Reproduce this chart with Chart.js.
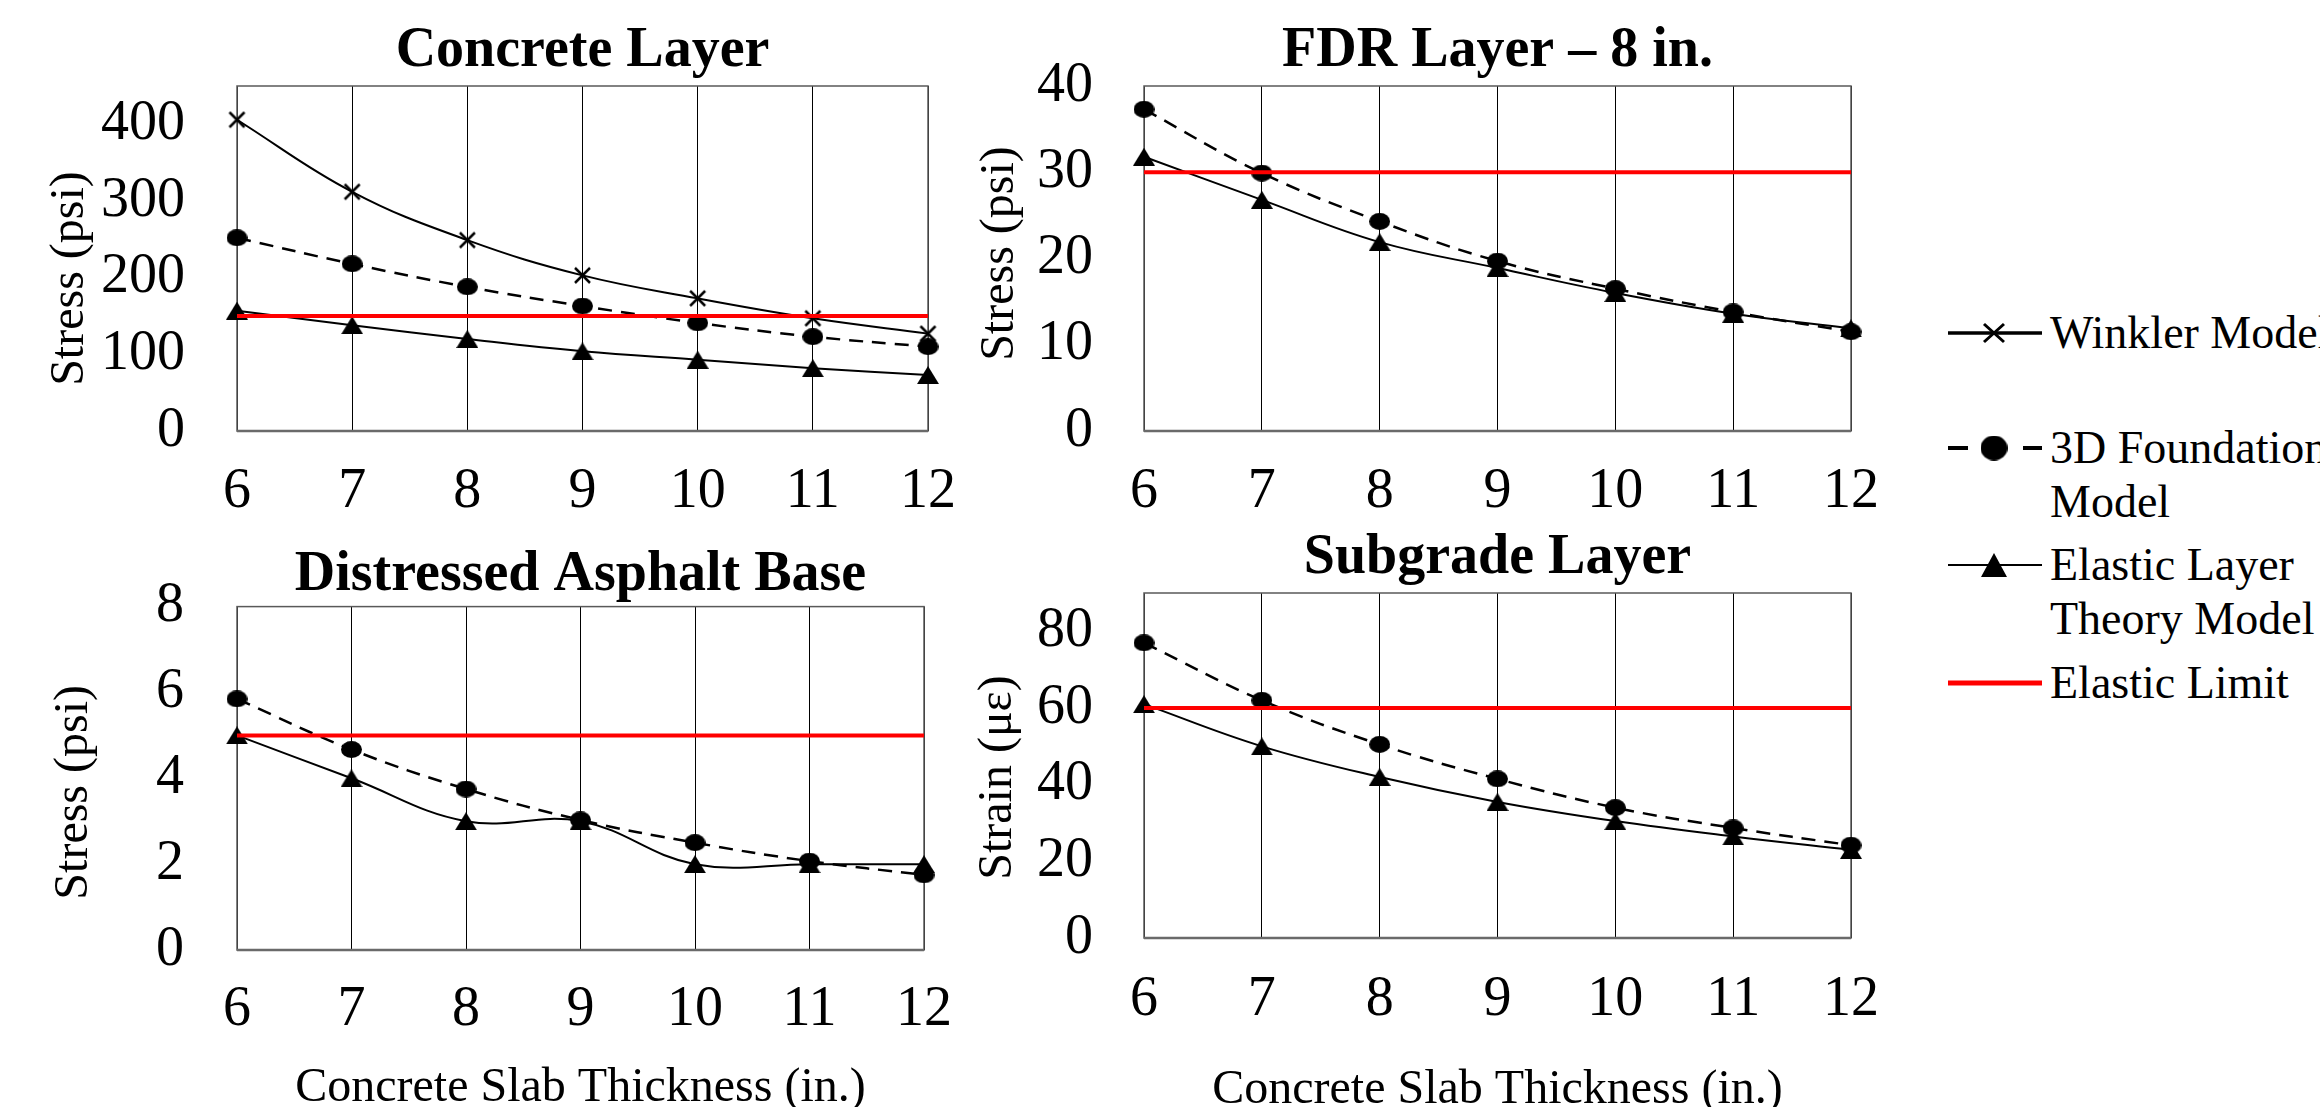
<!DOCTYPE html>
<html>
<head>
<meta charset="utf-8">
<script src="https://cdn.jsdelivr.net/npm/chart.js@4.4.1/dist/chart.umd.min.js"></script>
<style>
  html, body { margin: 0; padding: 0; background: #fff; width: 2320px; height: 1107px; overflow: hidden; }
  .panel { position: absolute; }
  .item { position: absolute; left: 1948px; white-space: nowrap;
          font-family: "Liberation Serif", "Times New Roman", serif; font-size: 46px; color: #000; }
  .item canvas { position: absolute; left: 0; }
  .item .txt { position: absolute; left: 102px; line-height: 54px; }
</style>
</head>
<body>
<div class="panel" style="left:0;top:0;width:1000px;height:540px"><canvas id="concreteChart"></canvas></div>
<div class="panel" style="left:960px;top:0;width:960px;height:540px"><canvas id="fdrChart"></canvas></div>
<div class="panel" style="left:0;top:520px;width:1000px;height:620px"><canvas id="asphaltChart"></canvas></div>
<div class="panel" style="left:960px;top:500px;width:960px;height:640px"><canvas id="subgradeChart"></canvas></div>
<div id="legend"></div>
<script>
// data
const thickness = ['6', '7', '8', '9', '10', '11', '12'];

const concreteWinkler = [406, 312, 249, 203, 173, 147, 127];
const concrete3D = [252, 218, 188, 163, 141, 123, 110];
const concreteElastic = [157, 138, 120, 104, 93, 82, 73];
const concreteLimit = 150;
const concreteTicks = [0, 100, 200, 300, 400];

const fdr3D = [37.3, 29.9, 24.3, 19.7, 16.5, 13.8, 11.5];
const fdrElastic = [31.8, 26.8, 21.9, 18.9, 16.0, 13.6, 11.9];
const fdrLimit = 30;
const fdrTicks = [0, 10, 20, 30, 40];

const asphalt3D = [5.85, 4.67, 3.75, 3.03, 2.5, 2.07, 1.75];
const asphaltElastic = [5, 4, 3, 3, 2, 2, 2];
const asphaltLimit = 5;
const asphaltTicks = [0, 2, 4, 6, 8];

const subgrade3D = [77, 62, 50.5, 41.5, 34, 28.7, 24.2];
const subgradeElastic = [61, 50, 42, 35.5, 30.5, 26.5, 23];
const subgradeLimit = 60;
const subgradeTicks = [0, 20, 40, 60, 80];

const seriesNames = ['Winkler Model', '3D Foundation Model', 'Elastic Layer Theory Model', 'Elastic Limit'];
const legendLines = [['Winkler Model'], ['3D Foundation', 'Model'], ['Elastic Layer', 'Theory Model'], ['Elastic Limit']];

const FONT = '"Liberation Serif", "Times New Roman", serif';
Chart.defaults.font.family = FONT;
Chart.defaults.color = '#000';

// marker images (the figure's markers are a bit wider than tall)
function marker(kind, w, h, lw) {
    const c = document.createElement('canvas');
    c.width = w; c.height = h;
    const g = c.getContext('2d');
    g.fillStyle = '#000';
    g.strokeStyle = '#000';
    g.lineWidth = lw || 2;
    g.beginPath();
    if (kind === 'x') {
        g.moveTo(2, 2); g.lineTo(w - 2, h - 2);
        g.moveTo(w - 2, 2); g.lineTo(2, h - 2);
        g.stroke();
    } else if (kind === 'dot') {
        g.ellipse(w / 2, h / 2, w / 2, h / 2, 0, 0, Math.PI * 2);
        g.fill();
    } else {
        g.moveTo(w / 2, 0); g.lineTo(w, h); g.lineTo(0, h);
        g.closePath();
        g.fill();
    }
    return c;
}

const xMark = marker('x', 19, 19, 2.5);
const dotMark = marker('dot', 21, 17);
const triMark = marker('tri', 22, 18);

const styles = {
    winkler: { borderColor: '#000', borderWidth: 2, pointStyle: xMark, order: 3 },
    found3d: { borderColor: '#000', borderWidth: 2.5, borderDash: [14, 9], pointStyle: dotMark, order: 2 },
    elastic: { borderColor: '#000', borderWidth: 2, pointStyle: triMark, order: 1 },
    limit: { borderColor: '#ff0000', borderWidth: 4, pointRadius: 0, order: 0 }
};

function dataset(name, data, kind) {
    return Object.assign({
        label: name,
        data: data,
        fill: false,
        clip: false,
        tension: kind === 'limit' ? 0 : 0.4,
        pointRadius: 10
    }, styles[kind]);
}

// draws the plot frame
const framePlugin = {
    id: 'frame',
    beforeDatasetsDraw(chart) {
        const a = chart.chartArea;
        const ctx = chart.ctx;
        ctx.save();
        ctx.strokeStyle = '#595959';
        ctx.lineWidth = 1.5;
        ctx.strokeRect(a.left, a.top, a.right - a.left, a.bottom - a.top);
        ctx.strokeStyle = '#6a6a6a';
        ctx.lineWidth = 2.5;
        ctx.beginPath();
        ctx.moveTo(a.left, a.bottom);
        ctx.lineTo(a.right, a.bottom);
        ctx.stroke();
        ctx.restore();
    }
};

// the y titles are not quite centred on the plot in the original
const yTitleShift = {
    id: 'yTitleShift',
    beforeDraw(chart, args, opts) {
        const s = chart.scales.y;
        if (!s || s._shifted) return;
        const orig = s.drawTitle;
        s.drawTitle = function () {
            this.ctx.save();
            this.ctx.translate(0, opts.shift || 0);
            orig.call(this);
            this.ctx.restore();
        };
        s._shifted = true;
    }
};

function buildPanel(id, box, title, yTitle, yMax, yTicks, datasets, xTitle) {
    const titleTop = box.titleMid - box.cy - 33.6;
    const xScale = {
        grid: { color: '#000', lineWidth: 1, drawTicks: false },
        border: { display: false },
        ticks: { font: { size: 56 }, padding: box.xTickMid - box.B - 33.6, maxRotation: 0, autoSkip: false },
        afterFit: s => { s.height = box.cy + box.ch - box.B; }
    };
    if (xTitle) {
        xScale.title = {
            display: true, text: xTitle, font: { size: 48 },
            padding: { top: 0, bottom: box.cy + box.ch - box.xTitleMid - 28.8 }
        };
    }
    return new Chart(document.getElementById(id), {
        type: 'line',
        data: { labels: thickness, datasets: datasets },
        options: {
            responsive: true,
            maintainAspectRatio: false,
            animation: false,
            events: [],
            layout: { padding: { left: 0, top: 0, right: box.cx + box.cw - box.R, bottom: 0 } },
            plugins: {
                legend: { display: false },
                tooltip: { enabled: false },
                yTitleShift: { shift: box.yTitleShift },
                title: {
                    display: true, text: title, fullSize: false, color: '#000',
                    font: { size: 56, weight: 'bold' },
                    padding: { top: titleTop, bottom: box.T - box.cy - titleTop - 67.2 }
                }
            },
            scales: {
                x: xScale,
                y: {
                    min: 0,
                    max: yMax,
                    grid: { display: false, drawTicks: false },
                    border: { display: false },
                    ticks: { font: { size: 56 }, padding: box.yPad },
                    afterBuildTicks: s => { s.ticks = yTicks.map(v => ({ value: v })); },
                    afterFit: s => { s.width = box.L - box.cx; },
                    title: {
                        display: true, text: yTitle, font: { size: 48 },
                        padding: { top: box.yTitleX - box.cx - 28.8, bottom: 0 }
                    }
                }
            }
        },
        plugins: [framePlugin, yTitleShift]
    });
}

const concreteChart = buildPanel('concreteChart',
    { cx: 0, cy: 0, cw: 1000, ch: 540, L: 237, T: 86, R: 928, B: 431, titleMid: 52, yTitleX: 70, yTitleShift: 20, yPad: 52, xTickMid: 492 },
    'Concrete Layer', 'Stress (psi)', 450, concreteTicks, [
        dataset(seriesNames[0], concreteWinkler, 'winkler'),
        dataset(seriesNames[1], concrete3D, 'found3d'),
        dataset(seriesNames[2], concreteElastic, 'elastic'),
        dataset(seriesNames[3], thickness.map(() => concreteLimit), 'limit')
    ]);

const fdrChart = buildPanel('fdrChart',
    { cx: 960, cy: 0, cw: 960, ch: 540, L: 1144, T: 86, R: 1851, B: 431, titleMid: 52, yTitleX: 1000, yTitleShift: -5, yPad: 51, xTickMid: 492 },
    'FDR Layer \u2013 8 in.', 'Stress (psi)', 40, fdrTicks, [
        dataset(seriesNames[1], fdr3D, 'found3d'),
        dataset(seriesNames[2], fdrElastic, 'elastic'),
        dataset(seriesNames[3], thickness.map(() => fdrLimit), 'limit')
    ]);

const asphaltChart = buildPanel('asphaltChart',
    { cx: 0, cy: 520, cw: 1000, ch: 620, L: 237, T: 605, R: 924, B: 950, titleMid: 574, yTitleX: 74, yTitleShift: 14, yPad: 53, xTickMid: 1010, xTitleMid: 1088 },
    'Distressed Asphalt Base', 'Stress (psi)', 8, asphaltTicks, [
        dataset(seriesNames[1], asphalt3D, 'found3d'),
        dataset(seriesNames[2], asphaltElastic, 'elastic'),
        dataset(seriesNames[3], thickness.map(() => asphaltLimit), 'limit')
    ], 'Concrete Slab Thickness (in.)');

const subgradeChart = buildPanel('subgradeChart',
    { cx: 960, cy: 500, cw: 960, ch: 640, L: 1144, T: 593, R: 1851, B: 938, titleMid: 559, yTitleX: 998, yTitleShift: 12, yPad: 51, xTickMid: 1000, xTitleMid: 1090 },
    'Subgrade Layer', 'Strain (\u03bc\u03b5)', 90, subgradeTicks, [
        dataset(seriesNames[1], subgrade3D, 'found3d'),
        dataset(seriesNames[2], subgradeElastic, 'elastic'),
        dataset(seriesNames[3], thickness.map(() => subgradeLimit), 'limit')
    ], 'Concrete Slab Thickness (in.)');

// shared legend on the right
const legendMids = [333, 448, 565, 683];
const legendKinds = ['winkler', 'found3d', 'elastic', 'limit'];
const legendEl = document.getElementById('legend');
legendKinds.forEach((kind, i) => {
    const item = document.createElement('div');
    item.className = 'item';
    item.style.top = (legendMids[i] - 27) + 'px';
    const c = document.createElement('canvas');
    c.width = 94; c.height = 40;
    c.style.top = '7px';
    const g = c.getContext('2d');
    g.lineCap = 'butt';
    g.beginPath();
    if (kind === 'found3d') {
        g.strokeStyle = '#000'; g.lineWidth = 4;
        g.moveTo(0, 20); g.lineTo(20, 20);
        g.moveTo(75, 20); g.lineTo(94, 20);
        g.stroke();
        g.drawImage(marker('dot', 27, 25), 46 - 13.5, 20 - 12.5);
    } else if (kind === 'limit') {
        g.strokeStyle = '#ff0000'; g.lineWidth = 5;
        g.moveTo(0, 20); g.lineTo(94, 20);
        g.stroke();
    } else {
        g.strokeStyle = '#000'; g.lineWidth = kind === 'winkler' ? 3.5 : 2;
        g.moveTo(0, 20); g.lineTo(94, 20);
        g.stroke();
        const m = kind === 'winkler' ? marker('x', 24, 22, 3) : marker('tri', 26, 24);
        g.drawImage(m, 46 - m.width / 2, 20 - m.height / 2);
    }
    item.appendChild(c);
    const t = document.createElement('div');
    t.className = 'txt';
    t.innerHTML = legendLines[i].join('<br>');
    item.appendChild(t);
    legendEl.appendChild(item);
});
</script>
</body>
</html>
